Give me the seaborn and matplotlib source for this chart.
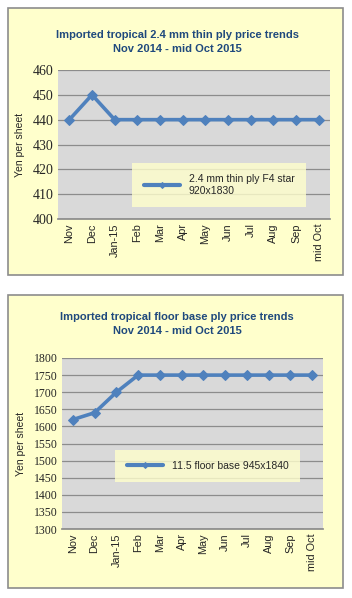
import matplotlib
matplotlib.use("Agg")
import matplotlib.pyplot as plt
import seaborn as sns
import pandas as pd
from matplotlib.patches import Rectangle

months = ["Nov", "Dec", "Jan-15", "Feb", "Mar", "Apr", "May", "Jun", "Jul", "Aug", "Sep", "mid Oct"]
thin_ply = [440, 450, 440, 440, 440, 440, 440, 440, 440, 440, 440, 440]
floor_base = [1620, 1640, 1700, 1750, 1750, 1750, 1750, 1750, 1750, 1750, 1750, 1750]
thin_label = "2.4 mm thin ply F4 star\n920x1830"
floor_label = "11.5 floor base 945x1840"
title1 = "Imported tropical 2.4 mm thin ply price trends\nNov 2014 - mid Oct 2015"
title2 = "Imported tropical floor base ply price trends\nNov 2014 - mid Oct 2015"
yticks1 = [400, 410, 420, 430, 440, 450, 460]
yticks2 = list(range(1300, 1801, 50))

sns.set_theme(style="white")
W, H = 352, 598
fig = plt.figure(figsize=(W / 100, H / 100), dpi=100)
fig.patch.set_facecolor("white")

LINE = "#4F81BD"
BG = "#FFFFCC"
PLOT = "#D9D9D9"
TITLE = "#1F497D"

def px_axes(x0, y0, x1, y1):
    return fig.add_axes([x0 / W, 1 - y1 / H, (x1 - x0) / W, (y1 - y0) / H])

def box(x0, y0, x1, y1):
    fig.patches.append(Rectangle((x0 / W, 1 - y1 / H), (x1 - x0) / W, (y1 - y0) / H,
                                 transform=fig.transFigure, facecolor=BG,
                                 edgecolor="#8C8C8C", linewidth=1.2, zorder=-10))

def panel(ax, vals, label, yticks, ytick_size, title, title_y, legend_bbox):
    df = pd.DataFrame({"x": range(len(months)), "y": vals, "s": label})
    sns.lineplot(data=df, x="x", y="y", hue="s", palette=[LINE], marker="D",
                 markersize=5.5, markeredgecolor=LINE, linewidth=2.6, ax=ax)
    ax.set_facecolor(PLOT)
    ax.set_xlim(-0.5, len(months) - 0.5)
    ax.set_ylim(yticks[0], yticks[-1])
    ax.set_yticks(yticks)
    ax.set_yticklabels([str(v) for v in yticks], fontsize=ytick_size, family="Liberation Serif")
    ax.set_xticks(range(len(months)))
    ax.set_xticklabels(months, rotation=90, fontsize=7.8, family="Liberation Sans")
    ax.tick_params(axis="both", length=0, pad=3)
    ax.yaxis.grid(True, color="#8C8C8C", linewidth=0.9)
    ax.set_axisbelow(True)
    for s in ax.spines.values():
        s.set_visible(False)
    ax.spines["bottom"].set_visible(True)
    ax.spines["bottom"].set_color("#8C8C8C")
    ax.set_xlabel("")
    ax.set_ylabel("Yen per sheet", fontsize=7.5, family="Liberation Sans", labelpad=6)
    fig.text(0.5 * (8 + 343) / W + 0.005, 1 - title_y / H, title, ha="center", va="center",
             fontsize=8.0, fontweight="bold", color=TITLE, family="Liberation Sans",
             linespacing=1.6)
    leg = ax.legend(loc="center", bbox_to_anchor=legend_bbox, bbox_transform=fig.transFigure,
                    frameon=True, handlelength=3.5, borderpad=1.1,
                    prop={"family": "Liberation Sans", "size": 7.5})
    leg.get_frame().set_facecolor(BG)
    leg.get_frame().set_edgecolor("none")
    leg.get_frame().set_boxstyle("square", pad=0)
    for h in leg.legend_handles:
        h.set_markersize(3)
        h.set_linewidth(3)

box(8, 8, 343, 275)
box(8, 295, 343, 588)

ax1 = px_axes(58, 70, 330, 219)
panel(ax1, thin_ply, thin_label, yticks1, 10, title1, 42, ((131 + 307) / 2 / W, 1 - (165 + 205) / 2 / H))
ax2 = px_axes(62, 358, 323, 529)
panel(ax2, floor_base, floor_label, yticks2, 8.5, title2, 324, ((128 + 287) / 2 / W, 1 - (444 + 488) / 2 / H))

fig.savefig("out.png", dpi=100, facecolor="white")
